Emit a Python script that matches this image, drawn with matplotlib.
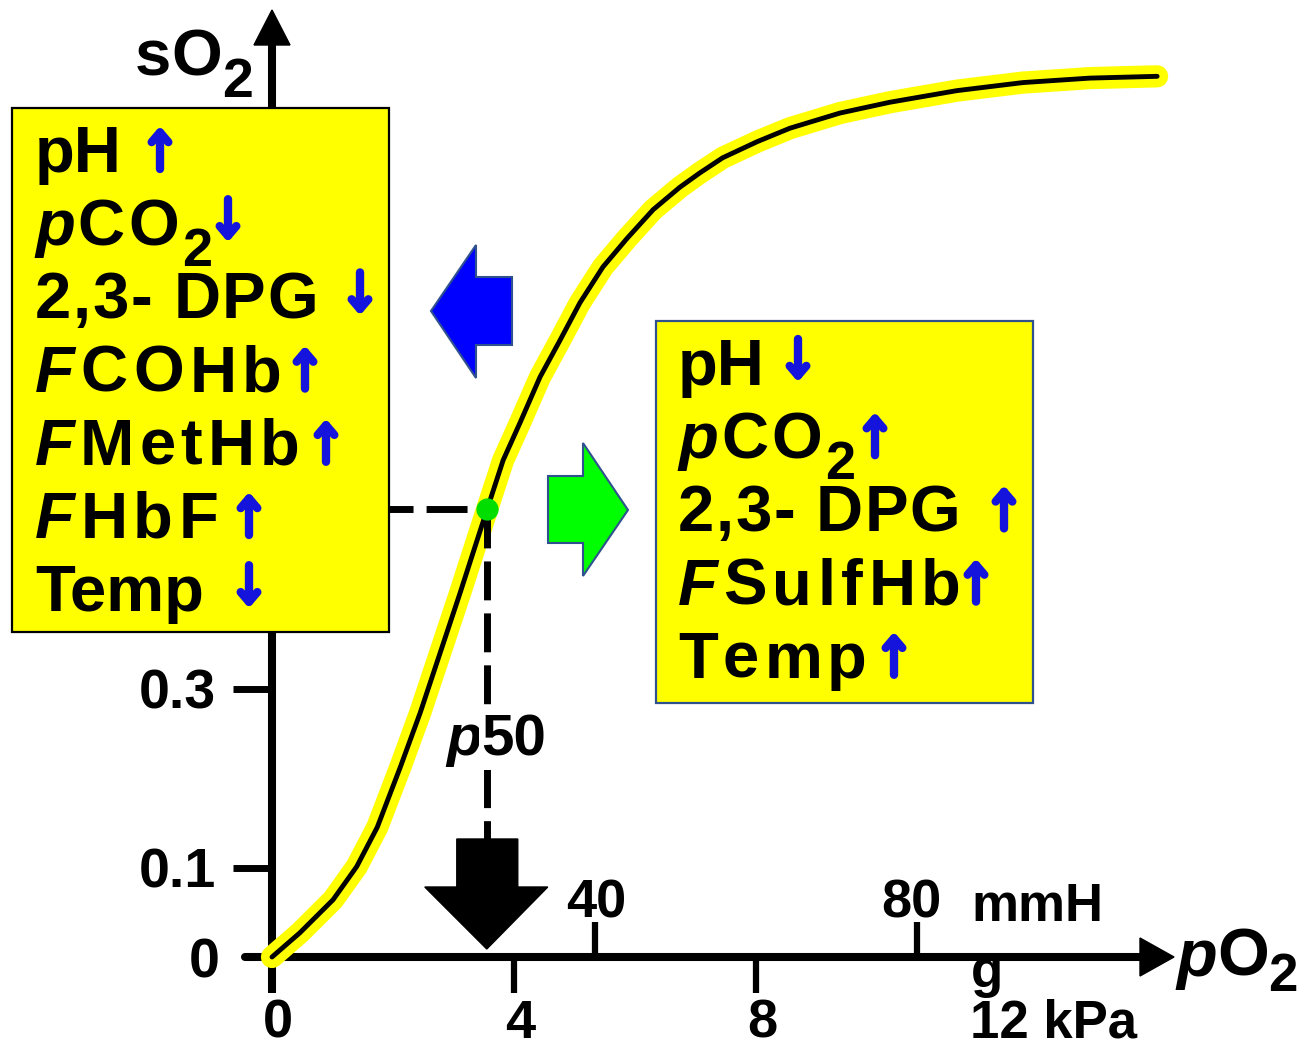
import matplotlib
matplotlib.use('Agg')
import matplotlib.pyplot as plt
from matplotlib.patches import Polygon, Rectangle, FancyArrowPatch

plt.rcParams['font.family'] = ['Liberation Sans', 'DejaVu Sans']
plt.rcParams['lines.scale_dashes'] = False

# oxygen dissociation curve
po2_kpa = [0, 0.46, 1.01, 1.40, 1.74, 2.12, 2.45, 2.78, 3.11, 3.32, 3.55,
           3.82, 4.10, 4.43, 4.76, 5.09, 5.47, 5.87, 6.30, 6.74, 7.07, 7.45,
           8.02, 8.56, 9.39, 10.21, 11.32, 12.41, 13.52, 14.63]
so2 = [0, 0.027, 0.064, 0.101, 0.145, 0.212, 0.273, 0.340, 0.407, 0.451, 0.499,
       0.555, 0.597, 0.648, 0.689, 0.731, 0.771, 0.803, 0.835, 0.860, 0.876,
       0.893, 0.911, 0.926, 0.943, 0.955, 0.968, 0.977, 0.982, 0.984]
p50 = 3.55
s50 = 0.5

ytick_vals = [0.1, 0.3]
ytick_labels = ['0.1', '0.3']
kpa_ticks = [4, 8]
kpa_labels = ['0', '4', '8', '12 kPa']
kpa_label_pos = [0, 4, 8, 12]
mmhg_ticks = [40, 80]
mmhg_labels = ['40', '80']

# (text, italic, subscript)
left_lines = [[('pH', 0, 0)],
              [('p', 1, 0), ('CO', 0, 0), ('2', 0, 1)],
              [('2,3- DPG', 0, 0)],
              [('F', 1, 0), ('COHb', 0, 0)],
              [('F', 1, 0), ('MetHb', 0, 0)],
              [('F', 1, 0), ('HbF', 0, 0)],
              [('Temp', 0, 0)]]
left_dirs = ['up', 'down', 'down', 'up', 'up', 'up', 'down']
right_lines = [[('pH', 0, 0)],
               [('p', 1, 0), ('CO', 0, 0), ('2', 0, 1)],
               [('2,3- DPG', 0, 0)],
               [('F', 1, 0), ('SulfHb', 0, 0)],
               [('Temp', 0, 0)]]
right_dirs = ['down', 'up', 'up', 'up', 'up']

W, H = 1310, 1046
X0, Y0, KX, KY = 272, 957, 60.5, 895
BLUE = '#1414dc'
YEL = '#ffff00'

fig = plt.figure(figsize=(W / 100, H / 100), dpi=100)
ax = fig.add_axes([0, 0, 1, 1])
ax.set_xlim(-X0 / KX, (W - X0) / KX)
ax.set_ylim((Y0 - H) / KY, Y0 / KY)
ax.axis('off')
r = fig.canvas.get_renderer()


def px(x, y):
    # pixel position (from top left) -> data
    return ((x - X0) / KX, (Y0 - y) / KY)


def rich(x, y, parts, size, track=0, drop=21, subsize=None, **kw):
    subsize = subsize or size * 0.83
    for s, it, sub in parts:
        fs = subsize if sub else size
        dy = drop if sub else 0
        chunks = list(s) if track else [s]
        for ch in chunks:
            t = fig.text(x / W, 1 - (y + dy) / H, ch, fontsize=fs, fontweight='bold',
                         fontstyle='italic' if it else 'normal', va='baseline',
                         ha='left', **kw)
            x = t.get_window_extent(r).x1 + track
    return x


def updown(xc, yb, d):
    lo, hi = px(xc, yb - 3), px(xc, yb - 46)
    a, b = (lo, hi) if d == 'up' else (hi, lo)
    ax.add_patch(FancyArrowPatch(a, b, arrowstyle='->,head_length=7,head_width=6',
                                 lw=6, color=BLUE, capstyle='round',
                                 joinstyle='round', shrinkA=0, shrinkB=0, zorder=6))


# axes
ax.plot([0, 0], [px(0, 993)[1], px(0, 45)[1]], color='k', lw=5.8, solid_capstyle='butt', zorder=2)
ax.add_patch(Polygon([px(254, 45), px(290, 45), px(272, 10)], closed=True, color='k', zorder=2))
ax.plot([px(245, 0)[0], px(1145, 0)[0]], [0, 0], color='k', lw=5.8, solid_capstyle='round', zorder=2)
ax.add_patch(Polygon([px(1140, 938), px(1140, 976), px(1174, 957)], closed=True, color='k', zorder=2))

for v, lab in zip(ytick_vals, ytick_labels):
    ax.plot([px(233, 0)[0], 0], [v, v], color='k', lw=5, solid_capstyle='butt', zorder=2)
    ax.text(px(216, 0)[0], v, lab, fontsize=40, fontweight='bold', ha='right', va='center_baseline')
ax.text(px(220, 0)[0], 0, '0', fontsize=40, fontweight='bold', ha='right', va='center_baseline')

for v in kpa_ticks:
    ax.plot([v, v], [0, px(0, 993)[1]], color='k', lw=4.5, solid_capstyle='butt', zorder=2)
for v, lab in zip(kpa_label_pos, kpa_labels):
    if ' ' in lab:
        ax.text(v - 28 / KX, px(0, 1038)[1], lab, fontsize=38, fontweight='bold', ha='left', va='baseline')
    else:
        ax.text(v + 6 / KX, px(0, 1038)[1], lab, fontsize=39, fontweight='bold', ha='center', va='baseline')

for v, lab in zip(mmhg_ticks, mmhg_labels):
    xk = v * 0.13332
    ax.plot([xk, xk], [0, px(0, 922)[1]], color='k', lw=4.5, solid_capstyle='butt', zorder=2)
    ax.text(xk - (0 if v == 40 else 8) / KX + 2 / KX, px(0, 917)[1], lab, fontsize=39,
            fontweight='bold', ha='center', va='baseline')
ax.text(px(971, 0)[0], px(0, 921)[1], 'mmH', fontsize=38, fontweight='bold', ha='left', va='baseline')
ax.text(px(971, 0)[0], px(0, 987)[1], 'g', fontsize=38, fontweight='bold', ha='left', va='baseline')

# axis titles
rich(135, 76, [('s', 0, 0), ('O', 0, 0), ('2', 0, 1)], 47, drop=21, subsize=40)
rich(1176, 976, [('p', 1, 0), ('O', 0, 0), ('2', 0, 1)], 48, drop=15, subsize=38)

# curve
ax.plot(po2_kpa, so2, color=YEL, lw=16, solid_capstyle='round', solid_joinstyle='round', zorder=3)
ax.plot(po2_kpa, so2, color='k', lw=3.5, solid_capstyle='round', solid_joinstyle='round', zorder=4)

# p50 guides
ax.plot([px(389, 0)[0], p50], [s50, s50], color='k', lw=5, linestyle=(12.2, (29.5, 9.4)), zorder=3)
ax.plot([p50, p50], [s50, px(0, 840)[1]], color='k', lw=5, linestyle=(0, (28, 9.4)), zorder=3)
ax.plot([p50], [s50], 'o', ms=16, color='#00dd00', mec='none', zorder=5)
rich(446, 755, [('p', 1, 0), ('50', 0, 0)], 42,
     bbox=dict(facecolor='white', edgecolor='none', pad=2))

xp = X0 + p50 * KX
ax.add_patch(Polygon([px(xp - 30, 839), px(xp + 31, 839), px(xp + 31, 887), px(xp + 61, 887),
                      px(xp, 949), px(xp - 62, 887), px(xp - 30, 887)], closed=True,
                     color='k', zorder=5))

# shift arrows
ax.add_patch(Polygon([px(431, 311), px(476, 245), px(476, 277), px(512, 277), px(512, 345),
                      px(476, 345), px(476, 378)], closed=True, facecolor='#0000ff',
                     edgecolor='#2f528f', lw=1.5, zorder=5))
ax.add_patch(Polygon([px(628, 510), px(583, 443), px(583, 476), px(548, 476), px(548, 543),
                      px(583, 543), px(583, 576)], closed=True, facecolor='#00ff00',
                     edgecolor='#2f528f', lw=1.5, zorder=5))

# boxes
bl, bt = px(12, 632), px(389, 108)
ax.add_patch(Rectangle(bl, bt[0] - bl[0], bt[1] - bl[1], facecolor=YEL, edgecolor='k', lw=1.6, zorder=5))
bl, bt = px(656, 703), px(1033, 321)
ax.add_patch(Rectangle(bl, bt[0] - bl[0], bt[1] - bl[1], facecolor=YEL, edgecolor='#2f528f', lw=1.6, zorder=5))

left_track = [0, 3, 1.5, 5.5, 5, 5.5, 0]
left_arrow_x = [160, 228, 360, 305, 326, 249, 249]
for i, parts in enumerate(left_lines):
    yb = 172 + i * 73.2
    rich(35, yb, parts, 47, track=left_track[i], zorder=7)
    updown(left_arrow_x[i], yb, left_dirs[i])

right_track = [0, 3, 1.5, 5.5, 5]
right_arrow_x = [798, 875, 1004, 976, 894]
for i, parts in enumerate(right_lines):
    yb = 385 + i * 73.2
    rich(678, yb, parts, 47, track=right_track[i], zorder=7)
    updown(right_arrow_x[i], yb, right_dirs[i])

fig.savefig('out.png', dpi=100)
